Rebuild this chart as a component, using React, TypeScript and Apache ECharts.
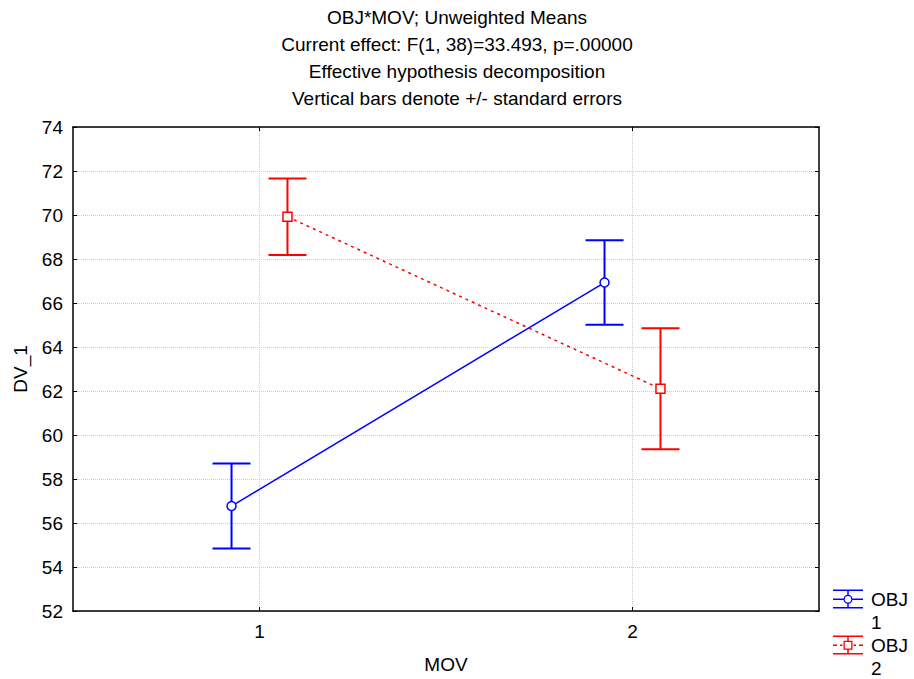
import React, { useEffect, useRef } from "react";
import * as echarts from "echarts";

// ---- data ----
const movLevels = [1, 2];
const obj1Means = [56.77, 66.93];
const obj1SE = [1.93, 1.92];
const obj2Means = [69.92, 62.1];
const obj2SE = [1.74, 2.75];
const seriesNames = ["OBJ\n1", "OBJ\n2"];
const titleLines = [
  "OBJ*MOV; Unweighted Means",
  "Current effect: F(1, 38)=33.493, p=.00000",
  "Effective hypothesis decomposition",
  "Vertical bars denote +/- standard errors",
];
const yMin = 52;
const yMax = 74;
const yStep = 2;
const xMin = 0.5;
const xMax = 2.5;

// ---- style ----
const FONT = "'Liberation Sans', Arial, Helvetica, sans-serif";
const FS = 19;
const BLUE = "#0000ff";
const RED = "#ff0000";
const OFFSET = 0.075;
const CAP = 19;

const icon1 =
  "path://M0 0H30V1.5H0Z M0 17.5H30V19H0Z M0 9H10.5V10.5H0Z M19.5 9H30V10.5H19.5Z " +
  "M14.25 1.5H15.75V5.2H14.25Z M14.25 14.3H15.75V17.5H14.25Z " +
  "M19.5 9.75A4.5 4.5 0 1 0 10.5 9.75A4.5 4.5 0 1 0 19.5 9.75Z " +
  "M18.2 9.75A3.2 3.2 0 1 1 11.8 9.75A3.2 3.2 0 1 1 18.2 9.75Z";
const icon2 =
  "path://M0 0H30V1.5H0Z M0 17.5H30V19H0Z M0 9H4V10.5H0Z M7 9H9.5V10.5H7Z " +
  "M20.5 9H23V10.5H20.5Z M26 9H30V10.5H26Z " +
  "M14.25 1.5H15.75V5.25H14.25Z M14.25 14.25H15.75V17.5H14.25Z " +
  "M10.5 5.25H19.5V14.25H10.5Z M11.8 6.55V12.95H18.2V6.55Z";

function errData(means: number[], se: number[], off: number) {
  return movLevels.map((m, i) => [m + off, means[i] - se[i], means[i] + se[i]]);
}

function errSeries(name: string, data: number[][], color: string) {
  return {
    type: "custom",
    name,
    data,
    encode: { x: 0, y: [1, 2] },
    z: 2,
    renderItem: (params: any, api: any) => {
      const x = api.value(0);
      const lo = api.coord([x, api.value(1)]);
      const hi = api.coord([x, api.value(2)]);
      const style = { stroke: color, lineWidth: 2 };
      return {
        type: "group",
        children: [
          { type: "line", shape: { x1: hi[0], y1: hi[1], x2: lo[0], y2: lo[1] }, style },
          { type: "line", shape: { x1: hi[0] - CAP, y1: hi[1], x2: hi[0] + CAP, y2: hi[1] }, style },
          { type: "line", shape: { x1: lo[0] - CAP, y1: lo[1], x2: lo[0] + CAP, y2: lo[1] }, style },
        ],
      };
    },
  };
}

export default function App() {
  const ref = useRef<HTMLDivElement>(null);
  useEffect(() => {
    if (!ref.current) return;
    const chart = echarts.init(ref.current, null, { renderer: "svg" });
    const axisLine = { show: true, onZero: false, lineStyle: { color: "#000", width: 1.5 } };
    const tick = { show: true, inside: true, length: 4, lineStyle: { color: "#000", width: 1 } };
    const split = { show: true, lineStyle: { color: "#cccccc", type: "dotted", width: 1 } };
    const legendText = {
      fontFamily: FONT,
      fontSize: FS,
      lineHeight: 23,
      color: "#000",
      padding: [0, 0, 0, 3],
    };
    const legendBase = {
      orient: "vertical",
      left: 833,
      padding: 0,
      itemWidth: 30,
      itemHeight: 19,
      selectedMode: false,
      textStyle: legendText,
      formatter: (name: string) => "\n" + name,
    };
    chart.setOption({
      animation: false,
      backgroundColor: "#fff",
      textStyle: { fontFamily: FONT },
      title: titleLines.map((t, i) => ({
        text: t,
        left: "center",
        top: 4 + i * 27,
        padding: 0,
        textStyle: { fontFamily: FONT, fontSize: FS, lineHeight: 27, fontWeight: "normal", color: "#000" },
      })),
      grid: { left: 73, top: 127, right: 95, bottom: 68 },
      legend: [
        {
          ...legendBase,
          top: 564.5,
          data: [{ name: seriesNames[0], icon: icon1, itemStyle: { color: BLUE, borderWidth: 0 } }],
        },
        {
          ...legendBase,
          top: 610.5,
          data: [{ name: seriesNames[1], icon: icon2, itemStyle: { color: RED, borderWidth: 0 } }],
        },
      ],
      xAxis: [
        {
          type: "value",
          min: xMin,
          max: xMax,
          position: "bottom",
          name: "MOV",
          nameLocation: "middle",
          nameGap: 44,
          nameTextStyle: { fontFamily: FONT, fontSize: FS, color: "#000" },
          axisLine,
          axisTick: { ...tick, customValues: movLevels },
          axisLabel: { customValues: movLevels, fontSize: FS, color: "#000", margin: 11, fontFamily: FONT },
          splitLine: split,
        },
        {
          type: "value",
          min: xMin,
          max: xMax,
          position: "top",
          axisLine,
          axisTick: { ...tick, customValues: movLevels },
          axisLabel: { show: false, customValues: movLevels },
          splitLine: { show: false },
        },
      ],
      yAxis: [
        {
          type: "value",
          min: yMin,
          max: yMax,
          interval: yStep,
          position: "left",
          name: "DV_1",
          nameLocation: "middle",
          nameGap: 43,
          nameTextStyle: { fontFamily: FONT, fontSize: FS, color: "#000" },
          axisLine,
          axisTick: tick,
          axisLabel: { fontSize: FS, color: "#000", margin: 10, fontFamily: FONT },
          splitLine: split,
        },
        {
          type: "value",
          min: yMin,
          max: yMax,
          interval: yStep,
          position: "right",
          axisLine,
          axisTick: tick,
          axisLabel: { show: false },
          splitLine: { show: false },
        },
      ],
      series: [
        errSeries("err1", errData(obj1Means, obj1SE, -OFFSET), BLUE),
        errSeries("err2", errData(obj2Means, obj2SE, OFFSET), RED),
        {
          type: "line",
          name: seriesNames[0],
          data: movLevels.map((m, i) => [m - OFFSET, obj1Means[i]]),
          symbol: "circle",
          symbolSize: 9,
          z: 5,
          lineStyle: { color: BLUE, width: 1.5 },
          itemStyle: { color: "#fff", borderColor: BLUE, borderWidth: 1.5 },
        },
        {
          type: "line",
          name: seriesNames[1],
          data: movLevels.map((m, i) => [m + OFFSET, obj2Means[i]]),
          symbol: "rect",
          symbolSize: 9,
          z: 5,
          lineStyle: { color: RED, width: 1.5, type: [3, 4] },
          itemStyle: { color: "#fff", borderColor: RED, borderWidth: 1.5 },
        },
      ],
    });
    return () => chart.dispose();
  }, []);
  return (
    <div
      ref={ref}
      style={{ position: "fixed", left: 0, top: 0, width: 914, height: 679, background: "#fff" }}
    />
  );
}
